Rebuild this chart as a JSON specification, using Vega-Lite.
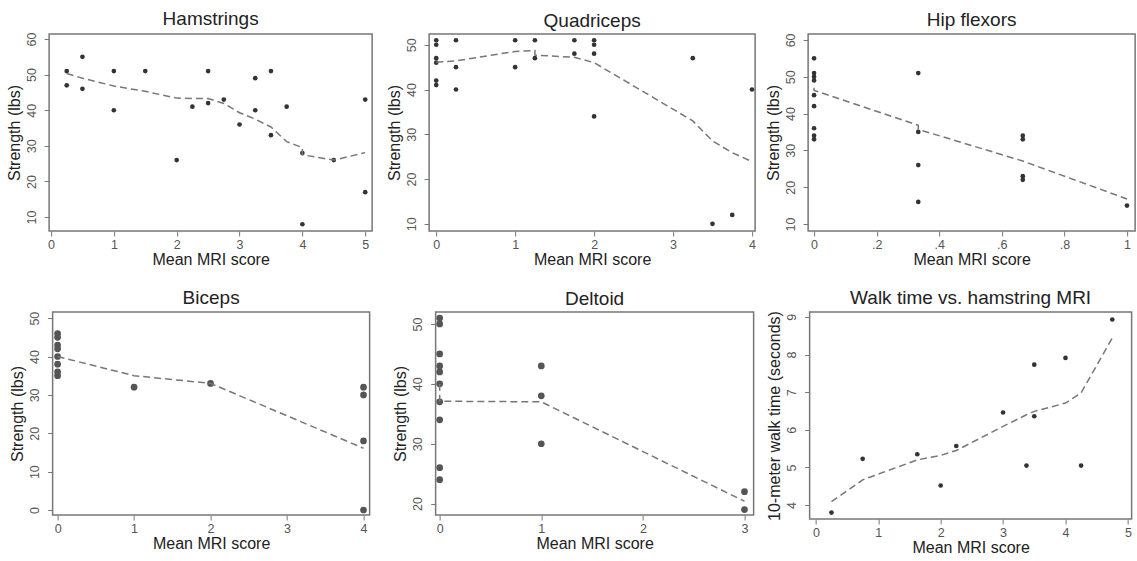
{
  "$schema": "https://vega.github.io/schema/vega-lite/v6.json",
  "padding": {"left": 5, "top": 9, "right": 0, "bottom": 0},
  "background": "white",
  "datasets": {
    "pts": [
      {"p": "H", "x": 0.25, "y": 51}, {"p": "H", "x": 0.25, "y": 47}, {"p": "H", "x": 0.5, "y": 55}, {"p": "H", "x": 0.5, "y": 46},
      {"p": "H", "x": 1, "y": 51}, {"p": "H", "x": 1, "y": 40}, {"p": "H", "x": 1.5, "y": 51}, {"p": "H", "x": 2, "y": 26},
      {"p": "H", "x": 2.25, "y": 41}, {"p": "H", "x": 2.5, "y": 51}, {"p": "H", "x": 2.5, "y": 42}, {"p": "H", "x": 2.75, "y": 43},
      {"p": "H", "x": 3, "y": 36}, {"p": "H", "x": 3.25, "y": 49}, {"p": "H", "x": 3.25, "y": 40}, {"p": "H", "x": 3.5, "y": 51},
      {"p": "H", "x": 3.5, "y": 33}, {"p": "H", "x": 3.75, "y": 41}, {"p": "H", "x": 4, "y": 28}, {"p": "H", "x": 4, "y": 8},
      {"p": "H", "x": 4.5, "y": 26}, {"p": "H", "x": 5, "y": 43}, {"p": "H", "x": 5, "y": 17},
      {"p": "Q", "x": 0, "y": 51}, {"p": "Q", "x": 0, "y": 50}, {"p": "Q", "x": 0, "y": 47}, {"p": "Q", "x": 0, "y": 46},
      {"p": "Q", "x": 0, "y": 42}, {"p": "Q", "x": 0, "y": 41}, {"p": "Q", "x": 0.25, "y": 51}, {"p": "Q", "x": 0.25, "y": 45},
      {"p": "Q", "x": 0.25, "y": 40}, {"p": "Q", "x": 1, "y": 51}, {"p": "Q", "x": 1, "y": 45}, {"p": "Q", "x": 1.25, "y": 51},
      {"p": "Q", "x": 1.25, "y": 47}, {"p": "Q", "x": 1.75, "y": 51}, {"p": "Q", "x": 1.75, "y": 48}, {"p": "Q", "x": 2, "y": 51},
      {"p": "Q", "x": 2, "y": 50}, {"p": "Q", "x": 2, "y": 48}, {"p": "Q", "x": 2, "y": 34}, {"p": "Q", "x": 3.25, "y": 47},
      {"p": "Q", "x": 3.5, "y": 10}, {"p": "Q", "x": 3.75, "y": 12}, {"p": "Q", "x": 4, "y": 40},
      {"p": "F", "x": 0, "y": 55}, {"p": "F", "x": 0, "y": 51}, {"p": "F", "x": 0, "y": 50}, {"p": "F", "x": 0, "y": 49},
      {"p": "F", "x": 0, "y": 45}, {"p": "F", "x": 0, "y": 42}, {"p": "F", "x": 0, "y": 36}, {"p": "F", "x": 0, "y": 34},
      {"p": "F", "x": 0, "y": 33}, {"p": "F", "x": 0.333, "y": 51}, {"p": "F", "x": 0.333, "y": 35}, {"p": "F", "x": 0.333, "y": 26},
      {"p": "F", "x": 0.333, "y": 16}, {"p": "F", "x": 0.667, "y": 34}, {"p": "F", "x": 0.667, "y": 33}, {"p": "F", "x": 0.667, "y": 23},
      {"p": "F", "x": 0.667, "y": 22}, {"p": "F", "x": 1, "y": 15},
      {"p": "B", "x": 0, "y": 46}, {"p": "B", "x": 0, "y": 45}, {"p": "B", "x": 0, "y": 43}, {"p": "B", "x": 0, "y": 42},
      {"p": "B", "x": 0, "y": 40}, {"p": "B", "x": 0, "y": 38}, {"p": "B", "x": 0, "y": 36}, {"p": "B", "x": 0, "y": 35},
      {"p": "B", "x": 1, "y": 32}, {"p": "B", "x": 2, "y": 33}, {"p": "B", "x": 4, "y": 32}, {"p": "B", "x": 4, "y": 30},
      {"p": "B", "x": 4, "y": 18}, {"p": "B", "x": 4, "y": 0},
      {"p": "D", "x": 0, "y": 51}, {"p": "D", "x": 0, "y": 50}, {"p": "D", "x": 0, "y": 45}, {"p": "D", "x": 0, "y": 43},
      {"p": "D", "x": 0, "y": 42}, {"p": "D", "x": 0, "y": 40}, {"p": "D", "x": 0, "y": 37}, {"p": "D", "x": 0, "y": 34},
      {"p": "D", "x": 0, "y": 26}, {"p": "D", "x": 0, "y": 24}, {"p": "D", "x": 1, "y": 43}, {"p": "D", "x": 1, "y": 38},
      {"p": "D", "x": 1, "y": 30}, {"p": "D", "x": 3, "y": 22}, {"p": "D", "x": 3, "y": 19},
      {"p": "W", "x": 0.25, "y": 3.8}, {"p": "W", "x": 0.75, "y": 5.23}, {"p": "W", "x": 1.625, "y": 5.35}, {"p": "W", "x": 2, "y": 4.52},
      {"p": "W", "x": 2.25, "y": 5.57}, {"p": "W", "x": 3, "y": 6.46}, {"p": "W", "x": 3.375, "y": 5.05}, {"p": "W", "x": 3.5, "y": 6.36},
      {"p": "W", "x": 3.5, "y": 7.73}, {"p": "W", "x": 4, "y": 7.91}, {"p": "W", "x": 4.25, "y": 5.05}, {"p": "W", "x": 4.75, "y": 8.93}
    ],
    "fit": [
      {"p": "H", "o": 1, "x": 0.25, "y": 50.3}, {"p": "H", "o": 2, "x": 0.5, "y": 49}, {"p": "H", "o": 3, "x": 1, "y": 46.8},
      {"p": "H", "o": 4, "x": 1.5, "y": 45.3}, {"p": "H", "o": 5, "x": 2, "y": 43.4}, {"p": "H", "o": 6, "x": 2.25, "y": 43.3},
      {"p": "H", "o": 7, "x": 2.5, "y": 43.3}, {"p": "H", "o": 8, "x": 2.75, "y": 41.9}, {"p": "H", "o": 9, "x": 3, "y": 39.3},
      {"p": "H", "o": 10, "x": 3.25, "y": 37.5}, {"p": "H", "o": 11, "x": 3.5, "y": 35.3}, {"p": "H", "o": 12, "x": 3.75, "y": 31.2},
      {"p": "H", "o": 13, "x": 4, "y": 29.5}, {"p": "H", "o": 14, "x": 4, "y": 27.5}, {"p": "H", "o": 15, "x": 4.5, "y": 26},
      {"p": "H", "o": 16, "x": 5, "y": 28.1},
      {"p": "Q", "o": 1, "x": 0, "y": 46.1}, {"p": "Q", "o": 2, "x": 0.25, "y": 46.4}, {"p": "Q", "o": 3, "x": 1, "y": 48.5},
      {"p": "Q", "o": 4, "x": 1.25, "y": 48.7}, {"p": "Q", "o": 5, "x": 1.25, "y": 47.7}, {"p": "Q", "o": 6, "x": 1.75, "y": 47.2},
      {"p": "Q", "o": 7, "x": 2, "y": 46}, {"p": "Q", "o": 8, "x": 3.25, "y": 33}, {"p": "Q", "o": 9, "x": 3.5, "y": 28.5},
      {"p": "Q", "o": 10, "x": 3.75, "y": 25.9}, {"p": "Q", "o": 11, "x": 4, "y": 23.9},
      {"p": "F", "o": 1, "x": 0, "y": 47}, {"p": "F", "o": 2, "x": 0, "y": 46.3}, {"p": "F", "o": 3, "x": 0.333, "y": 36.8},
      {"p": "F", "o": 4, "x": 0.333, "y": 35.7}, {"p": "F", "o": 5, "x": 0.667, "y": 27.1}, {"p": "F", "o": 6, "x": 1, "y": 16.8},
      {"p": "B", "o": 1, "x": 0, "y": 40}, {"p": "B", "o": 2, "x": 1, "y": 35}, {"p": "B", "o": 3, "x": 2, "y": 33},
      {"p": "B", "o": 4, "x": 4, "y": 16.1},
      {"p": "D", "o": 1, "x": 0, "y": 40}, {"p": "D", "o": 2, "x": 0, "y": 37.1}, {"p": "D", "o": 3, "x": 1, "y": 37},
      {"p": "D", "o": 4, "x": 3, "y": 20.4},
      {"p": "W", "o": 1, "x": 0.25, "y": 4.09}, {"p": "W", "o": 2, "x": 0.75, "y": 4.67}, {"p": "W", "o": 3, "x": 1.625, "y": 5.2},
      {"p": "W", "o": 4, "x": 2, "y": 5.32}, {"p": "W", "o": 5, "x": 2.25, "y": 5.45}, {"p": "W", "o": 6, "x": 3, "y": 6.09},
      {"p": "W", "o": 7, "x": 3.375, "y": 6.4}, {"p": "W", "o": 8, "x": 3.5, "y": 6.49}, {"p": "W", "o": 9, "x": 4, "y": 6.71},
      {"p": "W", "o": 10, "x": 4.25, "y": 6.98}, {"p": "W", "o": 11, "x": 4.75, "y": 8.44}
    ]
  },
  "vconcat": [
    {
      "hconcat": [
        {
          "hconcat": [
            {
              "width": 323, "height": 197,
              "title": "Hamstrings",
              "encoding": {
                "x": {"field": "x", "type": "quantitative", "scale": {"domain": [-0.03, 5.11], "nice": false, "zero": false}, "axis": {"title": "Mean MRI score", "values": [0, 1, 2, 3, 4, 5]}},
                "y": {"field": "y", "type": "quantitative", "scale": {"domain": [6.1, 61.4], "nice": false, "zero": false}, "axis": {"title": "Strength (lbs)", "values": [10, 20, 30, 40, 50, 60]}}
              },
              "layer": [
                {"data": {"name": "pts"}, "transform": [{"filter": "datum.p == 'H'"}], "mark": {"type": "circle", "size": 22, "color": "#333", "opacity": 1}},
                {"data": {"name": "fit"}, "transform": [{"filter": "datum.p == 'H'"}], "mark": {"type": "line", "color": "#777", "strokeDash": [7, 4], "strokeWidth": 1.5}, "encoding": {"order": {"field": "o", "type": "quantitative"}}}
              ]
            },
            {
              "width": 326, "height": 197,
              "title": "Quadriceps",
              "encoding": {
                "x": {"field": "x", "type": "quantitative", "scale": {"domain": [-0.09, 4.04], "nice": false, "zero": false}, "axis": {"title": "Mean MRI score", "values": [0, 1, 2, 3, 4]}},
                "y": {"field": "y", "type": "quantitative", "scale": {"domain": [8.4, 52.4], "nice": false, "zero": false}, "axis": {"title": "Strength (lbs)", "values": [10, 20, 30, 40, 50]}}
              },
              "layer": [
                {"data": {"name": "pts"}, "transform": [{"filter": "datum.p == 'Q'"}], "mark": {"type": "circle", "size": 22, "color": "#333", "opacity": 1}},
                {"data": {"name": "fit"}, "transform": [{"filter": "datum.p == 'Q'"}], "mark": {"type": "line", "color": "#777", "strokeDash": [7, 4], "strokeWidth": 1.5}, "encoding": {"order": {"field": "o", "type": "quantitative"}}}
              ]
            }
          ],
          "spacing": 12
        },
        {
          "width": 327, "height": 197,
          "title": "Hip flexors",
          "encoding": {
            "x": {"field": "x", "type": "quantitative", "scale": {"domain": [-0.019, 1.026], "nice": false, "zero": false}, "axis": {"title": "Mean MRI score", "values": [0, 0.2, 0.4, 0.6, 0.8, 1], "labelExpr": "datum.value == 0 ? '0' : datum.value == 1 ? '1' : replace(format(datum.value, '.1f'), '0.', '.')"}},
            "y": {"field": "y", "type": "quantitative", "scale": {"domain": [8.1, 61.6], "nice": false, "zero": false}, "axis": {"title": "Strength (lbs)", "values": [10, 20, 30, 40, 50, 60]}}
          },
          "layer": [
            {"data": {"name": "pts"}, "transform": [{"filter": "datum.p == 'F'"}], "mark": {"type": "circle", "size": 22, "color": "#333", "opacity": 1}},
            {"data": {"name": "fit"}, "transform": [{"filter": "datum.p == 'F'"}], "mark": {"type": "line", "color": "#777", "strokeDash": [7, 4], "strokeWidth": 1.5}, "encoding": {"order": {"field": "o", "type": "quantitative"}}}
          ]
        }
      ],
      "spacing": 7
    },
    {
      "hconcat": [
        {
          "hconcat": [
            {
              "width": 317, "height": 203,
              "title": "Biceps",
              "encoding": {
                "x": {"field": "x", "type": "quantitative", "scale": {"domain": [-0.065, 4.08], "nice": false, "zero": false}, "axis": {"title": "Mean MRI score", "values": [0, 1, 2, 3, 4]}},
                "y": {"field": "y", "type": "quantitative", "scale": {"domain": [-1.3, 51.6], "nice": false, "zero": false}, "axis": {"title": "Strength (lbs)", "values": [0, 10, 20, 30, 40, 50]}}
              },
              "layer": [
                {"data": {"name": "pts"}, "transform": [{"filter": "datum.p == 'B'"}], "mark": {"type": "circle", "size": 45, "color": "#555", "opacity": 1}},
                {"data": {"name": "fit"}, "transform": [{"filter": "datum.p == 'B'"}], "mark": {"type": "line", "color": "#777", "strokeDash": [7, 4], "strokeWidth": 1.5}, "encoding": {"order": {"field": "o", "type": "quantitative"}}}
              ]
            },
            {
              "width": 318, "height": 203,
              "title": "Deltoid",
              "encoding": {
                "x": {"field": "x", "type": "quantitative", "scale": {"domain": [-0.04, 3.09], "nice": false, "zero": false}, "axis": {"title": "Mean MRI score", "values": [0, 1, 2, 3]}},
                "y": {"field": "y", "type": "quantitative", "scale": {"domain": [18.1, 52], "nice": false, "zero": false}, "axis": {"title": "Strength (lbs)", "values": [20, 30, 40, 50]}}
              },
              "layer": [
                {"data": {"name": "pts"}, "transform": [{"filter": "datum.p == 'D'"}], "mark": {"type": "circle", "size": 45, "color": "#555", "opacity": 1}},
                {"data": {"name": "fit"}, "transform": [{"filter": "datum.p == 'D'"}], "mark": {"type": "line", "color": "#777", "strokeDash": [7, 4], "strokeWidth": 1.5}, "encoding": {"order": {"field": "o", "type": "quantitative"}}}
              ]
            }
          ],
          "spacing": 21
        },
        {
          "width": 322, "height": 207,
          "title": "Walk time vs. hamstring MRI",
          "encoding": {
            "x": {"field": "x", "type": "quantitative", "scale": {"domain": [-0.1, 5.06], "nice": false, "zero": false}, "axis": {"title": "Mean MRI score", "values": [0, 1, 2, 3, 4, 5]}},
            "y": {"field": "y", "type": "quantitative", "scale": {"domain": [3.63, 9.13], "nice": false, "zero": false}, "axis": {"title": "10-meter walk time (seconds)", "values": [4, 5, 6, 7, 8, 9]}}
          },
          "layer": [
            {"data": {"name": "pts"}, "transform": [{"filter": "datum.p == 'W'"}], "mark": {"type": "circle", "size": 22, "color": "#333", "opacity": 1}},
            {"data": {"name": "fit"}, "transform": [{"filter": "datum.p == 'W'"}], "mark": {"type": "line", "color": "#777", "strokeDash": [7, 4], "strokeWidth": 1.5}, "encoding": {"order": {"field": "o", "type": "quantitative"}}}
          ]
        }
      ],
      "spacing": 11
    }
  ],
  "spacing": 18,
  "center": true,
  "config": {
    "view": {"stroke": "#777", "strokeWidth": 1.5},
    "axis": {
      "grid": false, "domain": false, "tickColor": "#777", "tickSize": 5, "tickWidth": 1,
      "labelColor": "#555", "labelFont": "Liberation Sans", "labelFontSize": 12.5,
      "titleFont": "Liberation Sans", "titleFontSize": 16, "titleFontWeight": "normal", "titleColor": "#222"
    },
    "axisY": {"labelAngle": -90, "labelAlign": "center", "labelBaseline": "bottom", "labelPadding": 6, "titlePadding": 3},
    "axisX": {"labelPadding": 2, "titlePadding": 1},
    "title": {"font": "Liberation Sans", "fontSize": 19, "fontWeight": "normal", "color": "#222", "offset": 3}
  }
}
